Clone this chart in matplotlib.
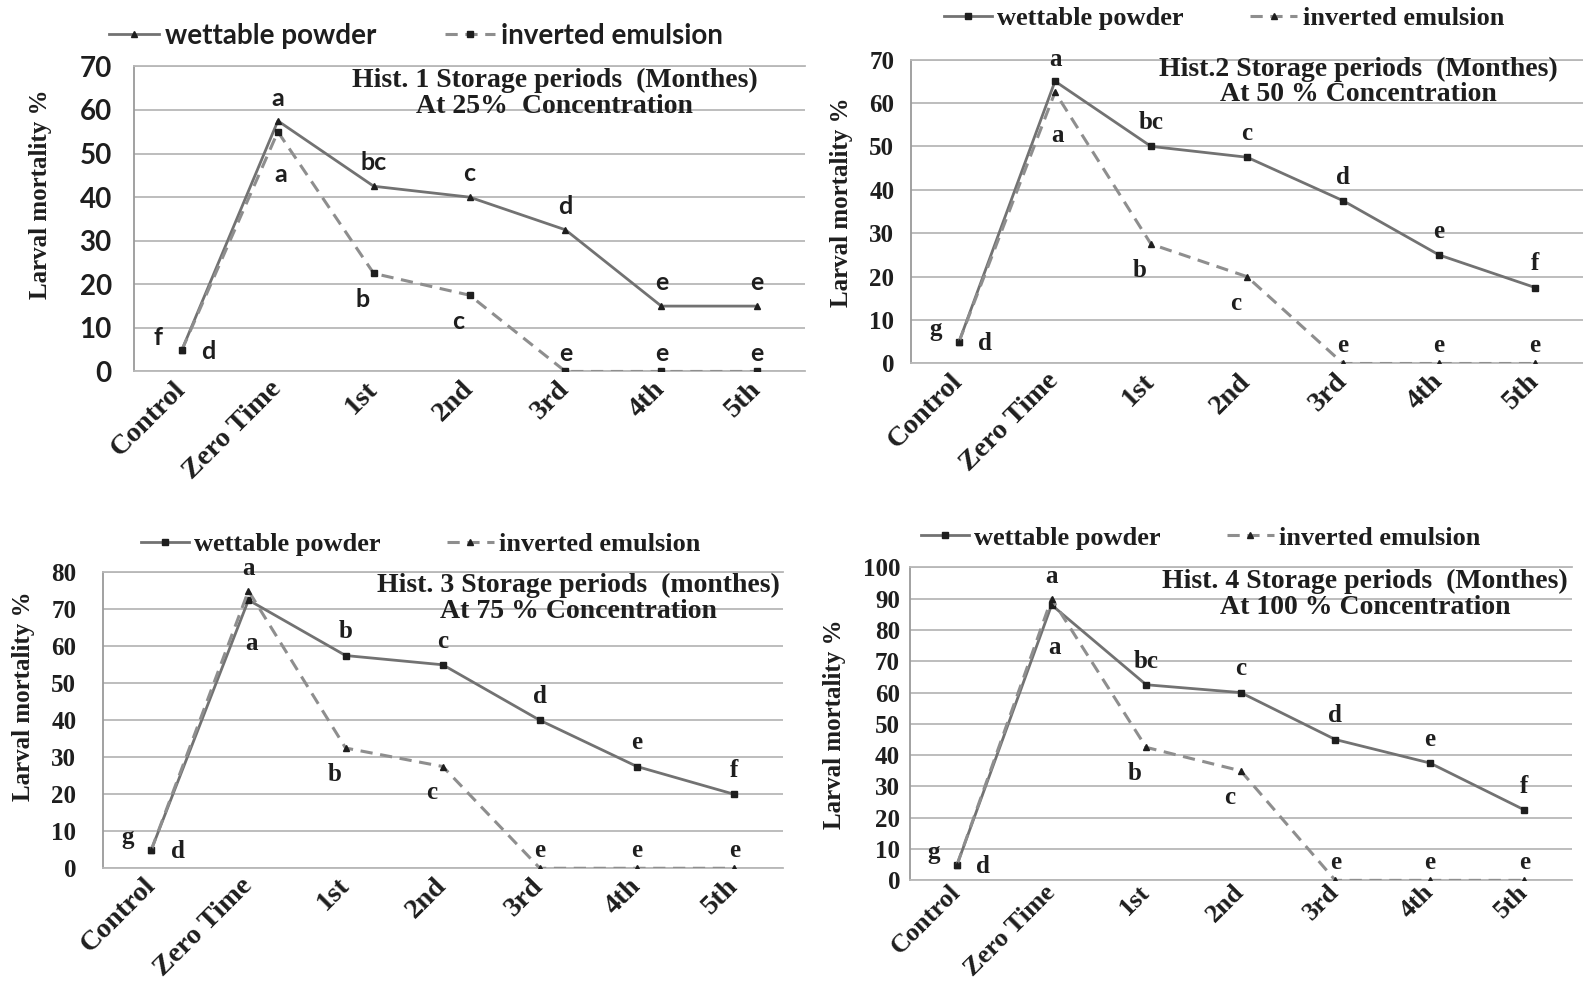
import matplotlib
matplotlib.use("Agg")
import matplotlib.pyplot as plt

# ---------------- data ----------------
categories = ["Control", "Zero Time", "1st", "2nd", "3rd", "4th", "5th"]

wp_25 = [5, 57.5, 42.5, 40, 32.5, 15, 15]
ie_25 = [5, 55, 22.5, 17.5, 0, 0, 0]
wp_25_letters = ["f", "a", "bc", "c", "d", "e", "e"]
ie_25_letters = ["d", "a", "b", "c", "e", "e", "e"]

wp_50 = [5, 65, 50, 47.5, 37.5, 25, 17.5]
ie_50 = [5, 62.5, 27.5, 20, 0, 0, 0]
wp_50_letters = ["g", "a", "bc", "c", "d", "e", "f"]
ie_50_letters = ["d", "a", "b", "c", "e", "e", "e"]

wp_75 = [5, 72.5, 57.5, 55, 40, 27.5, 20]
ie_75 = [5, 75, 32.5, 27.5, 0, 0, 0]
wp_75_letters = ["g", "a", "b", "c", "d", "e", "f"]
ie_75_letters = ["d", "a", "b", "c", "e", "e", "e"]

wp_100 = [5, 88, 62.5, 60, 45, 37.5, 22.5]
ie_100 = [5, 90, 42.5, 35, 0, 0, 0]
wp_100_letters = ["g", "a", "bc", "c", "d", "e", "f"]
ie_100_letters = ["d", "a", "b", "c", "e", "e", "e"]

titles = [
    "Hist. 1 Storage periods  (Monthes)\nAt 25%  Concentration",
    "Hist.2 Storage periods  (Monthes)\nAt 50 % Concentration",
    "Hist. 3 Storage periods  (monthes)\nAt 75 % Concentration",
    "Hist. 4 Storage periods  (Monthes)\nAt 100 % Concentration",
]
y_max = [70, 70, 80, 100]
series_names = ["wettable powder", "inverted emulsion"]
ylabel_text = "Larval mortality %"

# ---------------- style ----------------
SERIF = "Liberation Serif"
SANS = "Lato"
GRID = "#b8b8b8"
WP_COLOR = "#727272"
IE_COLOR = "#8e8e8e"
MK = "#1e1e1e"
TXT = "#1e1e1e"

fig = plt.figure(figsize=(15.83, 9.84), dpi=100)

rects = [
    (0.0847, 0.6225, 0.4239, 0.3100),
    (0.5755, 0.6306, 0.4245, 0.3089),
    (0.0649, 0.1176, 0.4296, 0.3008),
    (0.5747, 0.1053, 0.4182, 0.3181),
]
title_pos = [(0.627, 0.912), (0.665, 0.927), (0.699, 0.912), (0.688, 0.914)]
legend_pos = [(0.42, 1.10), (0.466, 1.135), (0.468, 1.095), (0.44, 1.094)]
ytick_pad = [16, 12, 19, 7]
ylabel_y = [0.58, 0.53, 0.58, 0.5]
ylabel_pad = [20, 12, 12, 12]
xtick_pad = [10, 10, 10, 6]
xtick_size = [20.5, 20.5, 20.5, 19]

panels = [
    (wp_25, ie_25, wp_25_letters, ie_25_letters),
    (wp_50, ie_50, wp_50_letters, ie_50_letters),
    (wp_75, ie_75, wp_75_letters, ie_75_letters),
    (wp_100, ie_100, wp_100_letters, ie_100_letters),
]

x = list(range(len(categories)))

for k, (wp, ie, wl, il) in enumerate(panels):
    ax = fig.add_axes(rects[k])
    first = (k == 0)
    tick_font = SANS if first else SERIF
    letter_font = SANS if first else SERIF
    wp_marker = "^" if first else "s"
    ie_marker = "s" if first else "^"

    ax.set_xlim(-0.5, len(categories) - 0.5)
    ax.set_ylim(0, y_max[k])
    ax.set_yticks(range(0, y_max[k] + 1, 10))
    ax.yaxis.grid(True, color=GRID, lw=1.3)
    ax.set_axisbelow(True)
    for s in ["top", "bottom"]:
        ax.spines[s].set_color(GRID)
        ax.spines[s].set_linewidth(1.3)
    ax.spines["right"].set_visible(False)
    ax.spines["left"].set_color("#9a9a9a")
    ax.spines["left"].set_linewidth(1.3)
    ax.tick_params(length=0)
    ax.tick_params(axis="y", pad=ytick_pad[k])
    ax.tick_params(axis="x", pad=xtick_pad[k])

    ax.set_xticks(x)
    ax.set_xticklabels(categories, rotation=45, ha="right", va="center",
                       rotation_mode="anchor", fontfamily=SERIF,
                       fontweight="bold", fontsize=xtick_size[k], color=TXT)
    for lab in ax.get_yticklabels():
        lab.set_fontfamily(tick_font)
        lab.set_fontweight("bold")
        lab.set_fontsize(20 if first else 18)
        lab.set_color(TXT)

    ax.set_ylabel(ylabel_text, fontfamily=SERIF, fontweight="bold",
                  fontsize=18, color=TXT, labelpad=ylabel_pad[k])
    ax.yaxis.label.set_y(ylabel_y[k])

    ax.plot(x, wp, color=WP_COLOR, lw=2.0, marker=wp_marker, markersize=5,
            mfc=MK, mec=MK, label=series_names[0], zorder=3)
    ax.plot(x, ie, color=IE_COLOR, lw=2.2, ls=(0, (4, 2.5)), marker=ie_marker,
            markersize=4.5, mfc=MK, mec=MK, label=series_names[1], zorder=3)

    # significance letters
    for i in x:
        if i == 0:
            off_w = (-17, 9)
            off_i = (19, -1)
            yw, yi = wp[i], ie[i]
        elif i == 1:
            off_w = (0, 16)
            off_i = (2, -31)
            yw = max(wp[i], ie[i])
            yi = min(wp[i], ie[i])
        else:
            off_w = (0, 17)
            yw, yi = wp[i], ie[i]
            off_i = (0, 13) if ie[i] == 0 else (-8, -19)
        ax.annotate(wl[i], (i, yw), xytext=off_w, textcoords="offset points",
                    ha="center", va="center", fontfamily=letter_font,
                    fontweight="bold", fontsize=18, color=TXT, zorder=4)
        ax.annotate(il[i], (i, yi), xytext=off_i, textcoords="offset points",
                    ha="center", va="center", fontfamily=letter_font,
                    fontweight="bold", fontsize=18, color=TXT, zorder=4)

    ax.text(title_pos[k][0], title_pos[k][1], titles[k], transform=ax.transAxes,
            ha="center", va="center", fontfamily=SERIF, fontweight="bold",
            fontsize=20, linespacing=1.02, color=TXT, zorder=5)

    leg = ax.legend(loc="center", bbox_to_anchor=legend_pos[k], ncol=2,
                    frameon=False, handlelength=1.8, handletextpad=0.2,
                    columnspacing=2.5,
                    prop={"family": SANS if first else SERIF, "weight": "bold",
                          "size": 20 if first else 19})
    for t in leg.get_texts():
        t.set_color(TXT)

fig.savefig("out.png", dpi=100)
